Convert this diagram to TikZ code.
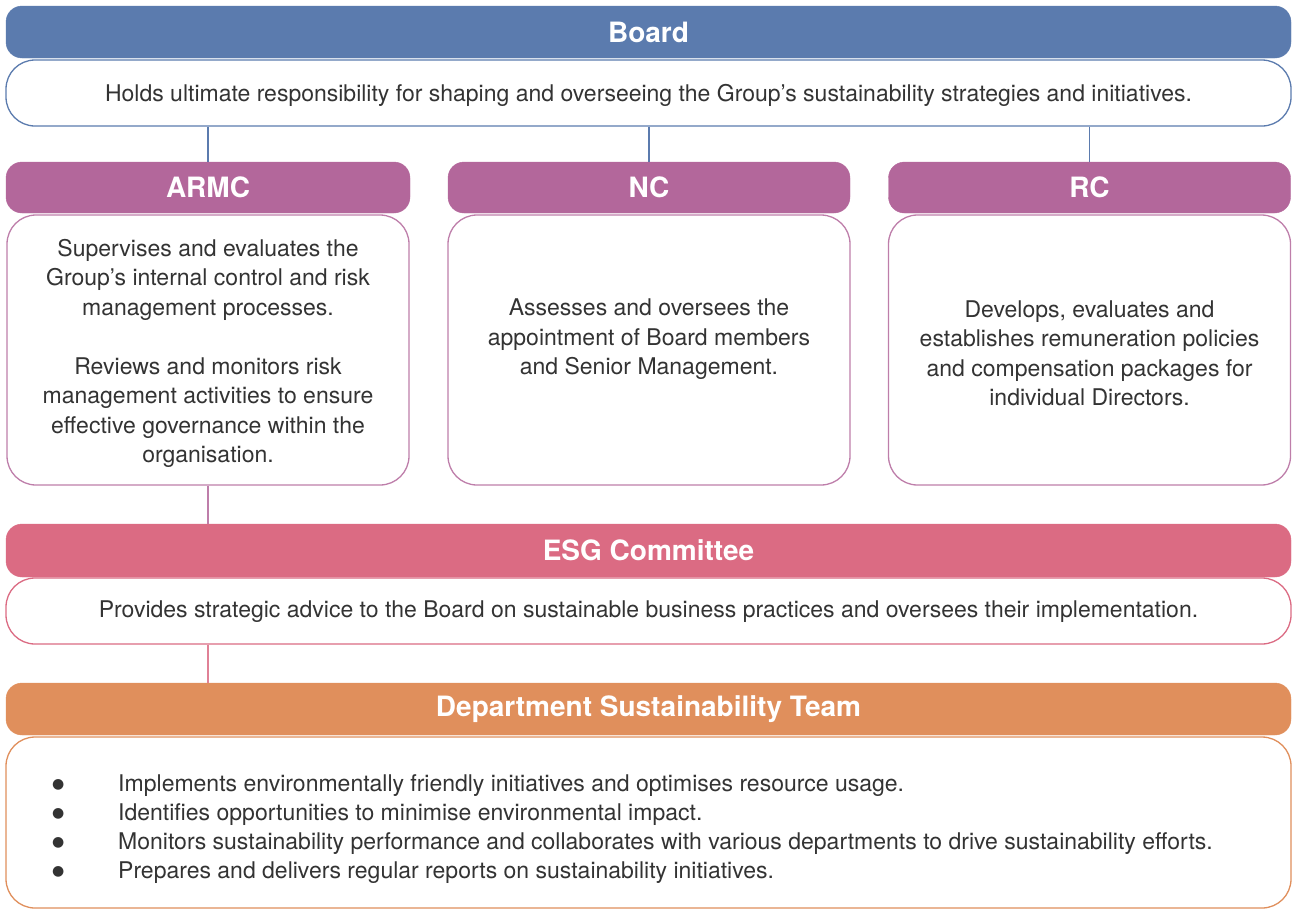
\documentclass[tikz,border=0pt]{standalone}
\usepackage{fontspec}
\setmainfont{TeX Gyre Heros}
\newfontfamily\dotfont{DejaVu Sans}
\definecolor{boardblue}{HTML}{5B7BAE}
\definecolor{cpurple}{HTML}{B3679B}
\definecolor{esgpink}{HTML}{DB6B83}
\definecolor{deptorange}{HTML}{E08F5C}
\definecolor{textgray}{HTML}{333333}
\newcommand{\bigdot}{\makebox[66pt][l]{\raisebox{3pt}{\dotfont\fontsize{14}{14}\selectfont ●}}}
\begin{document}
\begin{tikzpicture}[x=1pt,y=-1pt,
  hdr/.style={rounded corners=16pt, minimum height=52pt, inner sep=0pt,
    fill=#1, draw=#1, text=white,
    font=\fontsize{28}{34}\selectfont\bfseries},
  bodybox/.style={rounded corners=29pt, draw=#1, line width=1.3pt,
    fill=white, inner sep=0pt},
  txt/.style={font=\fontsize{23}{29.5}\selectfont, text=textgray,
    align=center, inner sep=0pt},
  conn/.style={draw=#1, line width=1.3pt}]
\useasboundingbox (0,0) rectangle (1292,913);

% Board
\node[hdr=boardblue, minimum width=1285pt] (board) at (648.5,32) {Board};
\node[bodybox=boardblue, minimum width=1285pt, minimum height=66pt] (boardbody) at (648.5,93) {};
\node[txt] (boardtext) at (648.5,95) {Holds ultimate responsibility for shaping and overseeing the Group’s sustainability strategies and initiatives.};

% Committees
\node[hdr=cpurple, minimum width=404pt, minimum height=51pt] (armc) at (208,187.5) {ARMC};
\node[hdr=cpurple, minimum width=402pt, minimum height=51pt] (nc) at (649,187.5) {NC};
\node[hdr=cpurple, minimum width=402pt, minimum height=51pt] (rc) at (1089.5,187.5) {RC};

\node[bodybox=cpurple!85, minimum width=402pt, minimum height=270pt] (armcbody) at (208,350) {};
\node[bodybox=cpurple!85, minimum width=402pt, minimum height=270pt] (ncbody) at (649,350) {};
\node[bodybox=cpurple!85, minimum width=402pt, minimum height=270pt] (rcbody) at (1089.5,350) {};

\node[txt] (armctext) at (208,353.5) {Supervises and evaluates the\\Group’s internal control and risk\\management processes.\\[29.5pt]Reviews and monitors risk\\management activities to ensure\\effective governance within the\\organisation.};
\node[txt] (nctext) at (649,339.5) {Assesses and oversees the\\appointment of Board members\\and Senior Management.};
\node[txt] (rctext) at (1089.5,353.5) {Develops, evaluates and\\establishes remuneration policies\\and compensation packages for\\individual Directors.};

% ESG Committee
\node[hdr=esgpink, minimum width=1285pt, minimum height=53pt] (esg) at (648.5,550.5) {ESG Committee};
\node[bodybox=esgpink, minimum width=1285pt, minimum height=66pt] (esgbody) at (648.5,611) {};
\node[txt] (esgtext) at (648.5,612) {Provides strategic advice to the Board on sustainable business practices and oversees their implementation.};

% Department Sustainability Team
\node[hdr=deptorange, minimum width=1285pt] (dept) at (648.5,709) {Department Sustainability Team};
\node[bodybox=deptorange, minimum width=1285pt, minimum height=171pt] (deptbody) at (648.5,822.5) {};
\node[txt, align=left, anchor=west, font=\fontsize{23}{29}\selectfont] (depttext) at (52,829)
  {\bigdot Implements environmentally friendly initiatives and optimises resource usage.\\
   \bigdot Identifies opportunities to minimise environmental impact.\\
   \bigdot Monitors sustainability performance and collaborates with various departments to drive sustainability efforts.\\
   \bigdot Prepares and delivers regular reports on sustainability initiatives.};

% Connectors
\draw[conn=boardblue] (boardbody.south -| armc.north) -- (armc.north);
\draw[conn=boardblue] (boardbody.south -| nc.north) -- (nc.north);
\draw[conn=boardblue] (boardbody.south -| rc.north) -- (rc.north);
\draw[conn=cpurple!85] (armcbody.south) -- (esg.north -| armcbody.south);
\draw[conn=esgpink!85] (esgbody.south -| armcbody.south) -- (dept.north -| armcbody.south);
\end{tikzpicture}
\end{document}
